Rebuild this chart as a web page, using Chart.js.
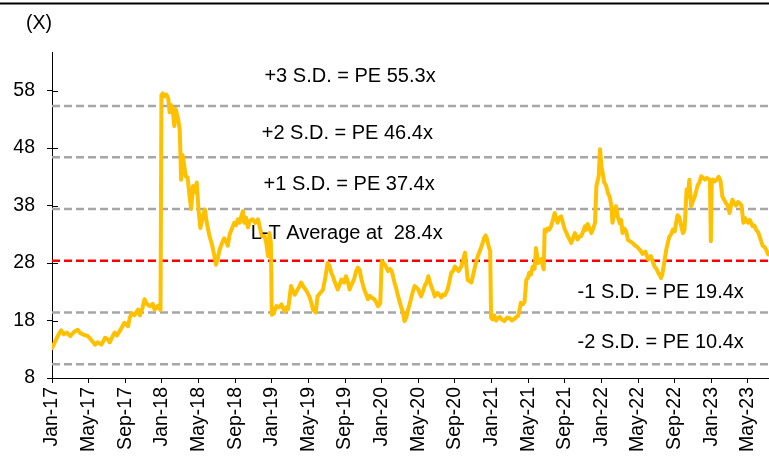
<!DOCTYPE html>
<html>
<head>
<meta charset="utf-8">
<script src="https://cdn.jsdelivr.net/npm/chart.js@4.4.0/dist/chart.umd.min.js"></script>
<style>
    body { margin: 0; background: #fff; }
    #wrap { width: 769px; height: 458px; position: relative; }
</style>
</head>
<body>
<div id="wrap"><canvas id="peChart"></canvas></div>
<script>
// month index counted from Jan-17 (0 = Jan-17, 12 = Jan-18 ...)
const months = [
    0.0, 0.3, 0.6, 1.0, 1.3, 1.6, 2.0, 2.4, 2.8, 3.1,
    3.5, 3.9, 4.2, 4.5, 4.7, 5.0, 5.4, 5.8, 6.1, 6.3,
    6.6, 6.85, 7.1, 7.4, 7.7, 7.9, 8.3, 8.5, 8.7, 9.0,
    9.4, 9.6, 9.9, 10.1, 10.4, 10.7, 11.0, 11.2, 11.6, 11.85,
    11.95, 12.1, 12.3, 12.5, 12.7, 12.85, 13.0, 13.2, 13.35, 13.5,
    13.75, 13.95, 14.1, 14.25, 14.4, 14.6, 14.8, 15.0, 15.2, 15.4,
    15.6, 15.8, 16.0, 16.2, 16.5, 16.7, 16.9, 17.2, 17.5, 17.7,
    17.9, 18.1, 18.3, 18.6, 18.8, 19.0, 19.2, 19.4, 19.6, 19.9,
    20.1, 20.3, 20.5, 20.7, 20.85, 21.0, 21.2, 21.4, 21.6, 21.9,
    22.2, 22.5, 22.7, 22.9, 23.2, 23.4, 23.6, 23.75, 23.9,
    24.0, 24.2, 24.5, 24.8, 25.05, 25.4, 25.6, 25.8, 26.1, 26.3,
    26.5, 26.9, 27.2, 27.5, 27.8, 28.1, 28.3, 28.5, 28.8, 29.0,
    29.3, 29.6, 29.85, 30.1, 30.3, 30.5, 30.7, 30.9, 31.2, 31.4,
    31.6, 31.9, 32.1, 32.3, 32.5, 32.7, 32.97, 33.2, 33.4, 33.6,
    33.8, 34.1, 34.3, 34.5, 34.7, 34.9, 35.2, 35.4, 35.6, 35.85,
    36.0, 36.2, 36.4, 36.7, 36.9, 37.1, 37.4, 37.6, 37.8, 38.1,
    38.3, 38.5, 38.7, 38.9, 39.2, 39.4, 39.6, 39.8, 40.0, 40.3,
    40.5, 40.7, 40.9, 41.1, 41.3, 41.6, 41.8, 42.1, 42.3, 42.5,
    42.7, 42.9, 43.2, 43.4, 43.6, 43.8, 44.0, 44.2, 44.4, 44.7,
    44.9, 45.1, 45.25, 45.4, 45.6, 45.8, 46.0, 46.2, 46.5, 46.7,
    46.9, 47.05, 47.2, 47.35, 47.5, 47.7, 47.85,
    47.95, 48.1, 48.3, 48.5, 48.7, 48.9, 49.1, 49.4, 49.7, 49.97,
    50.2, 50.5, 50.7, 50.9, 51.1, 51.2, 51.4, 51.6, 51.8, 52.0,
    52.1, 52.3, 52.5, 52.7, 52.85, 53.0, 53.1, 53.3, 53.45, 53.6,
    53.7, 53.8, 54.0, 54.1, 54.3, 54.5, 54.7, 54.9, 55.0, 55.2,
    55.4, 55.6, 55.8, 56.0, 56.2, 56.3, 56.5, 56.7, 56.9, 57.1,
    57.3, 57.4, 57.6, 57.8, 58.0, 58.2, 58.35, 58.5, 58.7, 58.9,
    59.1, 59.3, 59.45, 59.7, 59.85,
    60.0, 60.15, 60.3, 60.5, 60.7, 60.9, 61.1, 61.2, 61.4, 61.6,
    61.8, 62.0, 62.15, 62.3, 62.5, 62.7, 62.9, 63.1, 63.4, 63.7,
    63.9, 64.2, 64.5, 64.8, 65.1, 65.4, 65.6, 65.8, 66.0, 66.2,
    66.4, 66.5, 66.65, 66.8, 67.0, 67.1, 67.4, 67.6, 67.8, 68.0,
    68.3, 68.5, 68.7, 68.9, 69.07, 69.2, 69.3, 69.45, 69.6, 69.8,
    70.0, 70.2, 70.35, 70.5, 70.7, 70.9, 71.1, 71.3, 71.5, 71.7,
    71.85, 71.95, 72.05, 72.2, 72.4, 72.6, 72.8, 73.0,
    73.2, 73.4, 73.6, 73.8, 74.0, 74.15, 74.3, 74.5, 74.7, 74.9,
    75.1, 75.3, 75.5, 75.7, 76.0, 76.2, 76.5, 76.7, 76.9, 77.1,
    77.3, 77.6, 77.8, 78.0, 78.2
];

const pe = [
    13.2, 14.2, 15.2, 16.3, 15.6, 15.9, 15.3, 16.0, 16.4, 15.8,
    15.5, 15.3, 14.8, 14.2, 13.8, 14.2, 13.8, 15.0, 14.7, 14.2,
    15.2, 15.9, 15.4, 16.2, 17.0, 17.6, 17.0, 18.5, 19.3, 18.9,
    19.9, 18.9, 20.3, 21.7, 20.8, 20.5, 20.9, 19.9, 20.6, 19.8,
    57.2, 57.5, 57.0, 57.3, 56.6, 54.2, 55.5, 54.4, 51.8, 54.8,
    53.2, 51.2, 42.5, 46.8, 45.4, 43.1, 42.9, 40.0, 37.4, 41.4,
    40.3, 42.0, 37.3, 34.1, 36.2, 37.3, 35.0, 32.7, 31.0, 29.5,
    27.7, 28.8, 30.3, 31.6, 32.3, 31.8, 31.0, 33.0, 33.8, 35.0,
    34.6, 35.6, 35.0, 36.3, 37.0, 35.0, 35.9, 34.2, 35.3, 35.6,
    35.0, 35.6, 34.2, 32.7, 32.8, 31.5, 29.2, 33.2, 31.5,
    19.0, 19.2, 20.5, 20.3, 20.8, 19.6, 20.3, 20.0, 24.0, 23.2,
    22.5, 23.6, 24.6, 23.8, 23.1, 22.2, 21.2, 19.9, 19.4, 22.2,
    22.8, 23.4, 25.5, 28.0, 27.5, 26.3, 25.6, 24.6, 23.4, 24.2,
    25.1, 24.6, 25.7, 24.8, 23.4, 24.2, 25.1, 26.5, 27.2, 26.8,
    25.1, 23.4, 22.6, 21.7, 22.3, 22.0, 21.7, 21.2, 20.5, 21.0,
    28.3, 28.0, 27.6, 26.6, 27.0, 26.6, 24.6, 23.5, 22.2, 20.5,
    19.5, 17.9, 18.6, 19.9, 21.7, 23.0, 24.0, 23.7, 23.4, 22.2,
    23.0, 24.0, 24.6, 25.7, 24.5, 23.2, 22.2, 22.8, 22.5, 22.0,
    22.5, 22.4, 23.4, 24.8, 26.3, 26.6, 27.4, 27.0, 26.6, 27.4,
    28.6, 29.8, 27.5, 25.1, 24.8, 24.6, 26.0, 27.4, 29.2, 30.0,
    30.9, 31.6, 32.4, 32.8, 32.2, 30.8, 30.1,
    18.5, 18.2, 18.9, 18.0, 18.4, 18.6, 18.2, 17.9, 18.5, 18.4,
    18.0, 18.3, 18.6, 18.8, 20.2, 21.1, 20.8, 21.2, 25.1, 25.5,
    26.3, 26.0, 27.4, 27.0, 30.6, 29.0, 28.0, 28.4, 28.7, 27.4,
    26.9, 33.8, 33.5, 34.0, 33.8, 34.4, 35.5, 36.7, 36.0, 35.0,
    35.9, 36.1, 35.0, 33.8, 33.2, 32.7, 32.2, 31.5, 32.3, 33.2,
    32.5, 32.1, 32.6, 32.7, 33.5, 34.4, 33.8, 34.8, 34.0, 33.2,
    34.0, 35.0, 41.4, 43.1, 47.8,
    44.8, 43.6, 42.0, 41.5, 40.2, 39.5, 37.9, 35.0, 36.6, 37.9,
    36.0, 34.9, 35.5, 33.2, 34.0, 33.5, 32.0, 31.8, 31.5, 31.0,
    30.8, 30.3, 29.6, 30.0, 28.6, 29.2, 28.3, 27.4, 27.0, 26.3,
    25.8, 25.4, 26.0, 27.5, 29.5, 30.5, 32.5, 33.0, 33.8, 33.5,
    36.3, 36.0, 34.5, 33.2, 33.8, 37.5, 40.8, 39.5, 42.5, 37.9,
    38.8, 39.6, 40.5, 41.5, 42.0, 43.1, 42.8, 42.5, 42.8, 42.6,
    42.5, 31.8, 42.0, 42.5, 42.2, 42.5, 43.0, 42.3,
    39.6, 39.0, 38.4, 38.0, 36.7, 38.0, 39.0, 38.4, 38.0, 38.6,
    38.4, 38.0, 35.0, 35.8, 35.0, 35.5, 34.4, 34.5, 33.8, 33.4,
    32.5, 31.0, 30.8, 30.3, 29.5
];

const ltAverage = 28.4;
const sdLevels = [55.3, 46.4, 37.4, 19.4, 10.4];
const bandLabels = [
    '+3 S.D. = PE 55.3x',
    '+2 S.D. = PE 46.4x',
    '+1 S.D. = PE 37.4x',
    'L-T Average at  28.4x',
    '-1 S.D. = PE 19.4x',
    '-2 S.D. = PE 10.4x'
];
const yTicks = [8, 18, 28, 38, 48, 58];
const xTickMonths = [0, 4, 8, 12, 16, 20, 24, 28, 32, 36, 40, 44, 48, 52, 56, 60, 64, 68, 72, 76];
const xTickLabels = [
    'Jan-17', 'May-17', 'Sep-17', 'Jan-18', 'May-18', 'Sep-18', 'Jan-19',
    'May-19', 'Sep-19', 'Jan-20', 'May-20', 'Sep-20', 'Jan-21', 'May-21',
    'Sep-21', 'Jan-22', 'May-22', 'Sep-22', 'Jan-23', 'May-23'
];

if (months.length !== pe.length) {
    throw new Error('months/pe length mismatch: ' + months.length + ' vs ' + pe.length);
}

const X_MIN = 0;
const X_MAX = 78.3;
const FONT = '"Liberation Sans", Arial, sans-serif';

Chart.defaults.font.family = FONT;
Chart.defaults.font.size = 19.5;
Chart.defaults.color = '#000';

function flatLine(value) {
    return [{ x: X_MIN, y: value }, { x: X_MAX, y: value }];
}

// band labels: left edge (month) and vertical centre (value) of each text
const labelPos = [
    [23.2, 60.5], [22.9, 50.5], [23.1, 41.6], [21.7, 33.2], [57.4, 22.8], [57.4, 14.2]
];

const extras = {
    id: 'extras',
    beforeDraw(chart) {
        const ctx = chart.ctx;
        ctx.save();
        ctx.fillStyle = '#fff';
        ctx.fillRect(0, 0, chart.width, chart.height);
        ctx.fillStyle = '#000';
        ctx.fillRect(0, 2.5, chart.width, 2);
        ctx.restore();
    },
    afterDatasetsDraw(chart) {
        const ctx = chart.ctx;
        const xs = chart.scales.x;
        const ys = chart.scales.y;
        ctx.save();
        // inner half of the y tick marks
        ctx.strokeStyle = '#000';
        ctx.lineWidth = 1;
        yTicks.forEach(t => {
            const y = Math.round(ys.getPixelForValue(t)) + 0.5;
            ctx.beginPath();
            ctx.moveTo(xs.left, y);
            ctx.lineTo(xs.left + 6, y);
            ctx.stroke();
        });
        ctx.fillStyle = '#000';
        ctx.font = '20px ' + FONT;
        ctx.textBaseline = 'middle';
        ctx.textAlign = 'left';
        bandLabels.forEach((txt, i) => {
            ctx.fillText(txt, xs.getPixelForValue(labelPos[i][0]), ys.getPixelForValue(labelPos[i][1]));
        });
        ctx.font = '19.5px ' + FONT;
        ctx.fillText('(X)', 26, 24);
        ctx.restore();
    }
};

const datasets = [
    {
        data: months.map((m, i) => ({ x: m, y: pe[i] })),
        borderColor: '#FFC000',
        borderWidth: 4,
        borderJoinStyle: 'round',
        borderCapStyle: 'round',
        pointRadius: 0,
        tension: 0
    },
    {
        data: flatLine(ltAverage),
        borderColor: '#FF0000',
        borderWidth: 2.5,
        borderDash: [8, 4],
        pointRadius: 0
    }
];
sdLevels.forEach(lvl => {
    datasets.push({
        data: flatLine(lvl),
        borderColor: '#A6A6A6',
        borderWidth: 2.5,
        borderDash: [8, 4],
        pointRadius: 0
    });
});

new Chart(document.getElementById('peChart'), {
    type: 'line',
    data: { datasets },
    options: {
        responsive: true,
        maintainAspectRatio: false,
        animation: false,
        layout: { padding: { top: 52, right: 0, bottom: 0, left: 0 } },
        plugins: { legend: { display: false }, tooltip: { enabled: false } },
        scales: {
            x: {
                type: 'linear',
                min: X_MIN,
                max: X_MAX,
                afterBuildTicks: s => { s.ticks = xTickMonths.map(v => ({ value: v })); },
                afterFit: s => { s.height = 80; s.paddingLeft = 0; s.paddingRight = 0; },
                ticks: {
                    autoSkip: false,
                    minRotation: 90,
                    maxRotation: 90,
                    padding: 4,
                    callback: (v, i) => xTickLabels[i]
                },
                grid: { drawOnChartArea: false, drawTicks: true, tickLength: 5, color: '#000', lineWidth: 1 },
                border: { display: true, color: '#000', width: 1 }
            },
            y: {
                type: 'linear',
                min: 8,
                max: 64.7,
                afterBuildTicks: s => { s.ticks = yTicks.map(v => ({ value: v })); },
                afterFit: s => { s.width = 52; s.paddingTop = 0; s.paddingBottom = 0; },
                ticks: { padding: 12 },
                grid: { drawOnChartArea: false, drawTicks: true, tickLength: 5, color: '#000', lineWidth: 1 },
                border: { display: true, color: '#000', width: 1 }
            }
        }
    },
    plugins: [extras]
});
</script>
</body>
</html>
